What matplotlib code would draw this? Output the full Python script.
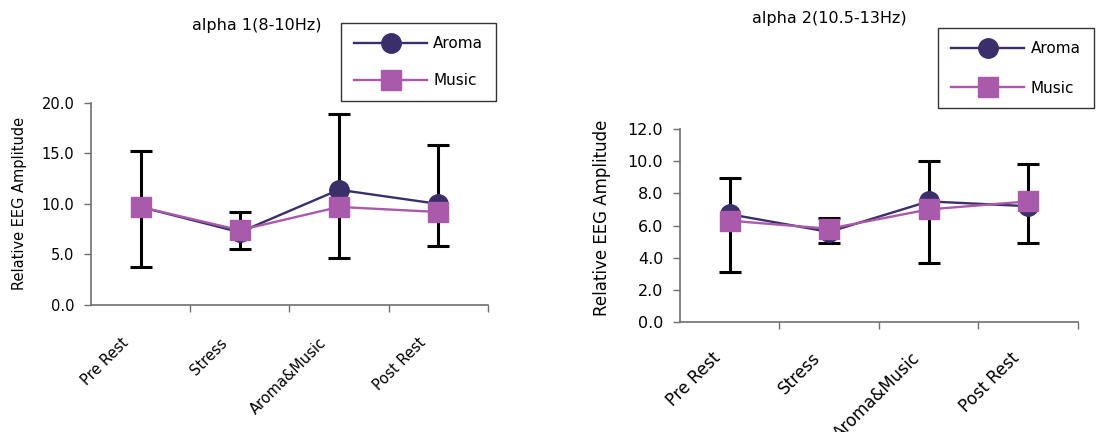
import matplotlib
matplotlib.use('Agg')
import matplotlib.pyplot as plt
import matplotlib.transforms as mtrans
import numpy as np

plt.rcParams['font.family'] = ['DejaVu Sans']

categories = ['Pre Rest', 'Stress', 'Aroma&Music', 'Post Rest']

# alpha 1 (8-10Hz)
aroma1 = [9.7, 7.2, 11.4, 10.0]
music1 = [9.7, 7.4, 9.7, 9.2]
err1_hi = [15.2, 9.2, 18.9, 15.8]
err1_lo = [3.8, 5.5, 4.6, 5.8]

# alpha 2 (10.5-13Hz)
aroma2 = [6.7, 5.6, 7.5, 7.2]
music2 = [6.3, 5.8, 7.0, 7.5]
err2_hi = [8.95, 6.45, 10.0, 9.85]
err2_lo = [3.1, 4.9, 3.65, 4.9]

c_aroma = '#3a2e6b'
c_music = '#aa5aaa'
c_axis = '#707070'

fig = plt.figure(figsize=(10.96, 4.32), dpi=100)


def panel(rect, title, aroma, music, hi, lo, ymax, ystep, fs_tick, fs_xlab, fs_ylab, fs_title,
          lab_off, leg_xy, leg_ls, title_xy, ylab_xy):
    ax = fig.add_axes(rect)
    x = np.arange(len(categories))
    a = np.array(aroma)
    yerr = [a - np.array(lo), np.array(hi) - a]
    ax.errorbar(x, a, yerr=yerr, fmt='none', ecolor='black', elinewidth=2.2,
                capsize=8, capthick=2.2, zorder=1)
    ax.plot(x, aroma, color=c_aroma, lw=1.7, marker='o', ms=14, label='Aroma', zorder=2)
    ax.plot(x, music, color=c_music, lw=1.7, marker='s', ms=14, label='Music', zorder=3)
    ax.set_xlim(-0.5, 3.5)
    ax.set_ylim(0, ymax)
    yt = np.arange(0, ymax + 0.01, ystep)
    ax.set_yticks(yt)
    ax.set_yticklabels(['%.1f' % v for v in yt], fontsize=fs_tick)
    ax.set_xticks([0.5, 1.5, 2.5, 3.5])
    ax.set_xticklabels([])
    ax.tick_params(axis='both', which='major', length=5, width=1, color=c_axis)
    ax.tick_params(axis='y', pad=7)
    # rotated category labels, right end placed just under each category
    off = mtrans.ScaledTranslation(lab_off[0] / 100, -lab_off[1] / 100, fig.dpi_scale_trans)
    for xi, lab in zip(x, categories):
        ax.text(xi, 0, lab, transform=ax.get_xaxis_transform() + off, rotation=45,
                rotation_mode='anchor', ha='right', va='top', fontsize=fs_xlab)
    for s in ['top', 'right']:
        ax.spines[s].set_visible(False)
    for s in ['left', 'bottom']:
        ax.spines[s].set_color(c_axis)
        ax.spines[s].set_linewidth(1.2)
    fig.text(ylab_xy[0], ylab_xy[1], 'Relative EEG Amplitude', rotation=90,
             ha='center', va='center', fontsize=fs_ylab)
    fig.text(title_xy[0], title_xy[1], title, ha='center', va='center', fontsize=fs_title)
    leg = ax.legend(loc='upper left', bbox_to_anchor=leg_xy, bbox_transform=fig.transFigure,
                    fontsize=11, frameon=True, fancybox=False, edgecolor='black',
                    handlelength=4.8, handletextpad=0.4, labelspacing=leg_ls,
                    borderpad=0.85, borderaxespad=0)
    leg.get_frame().set_linewidth(1.0)
    return ax


panel([0.083, 0.294, 0.362, 0.468], 'alpha 1(8-10Hz)', aroma1, music1, err1_hi, err1_lo,
      20, 5, 10.5, 10.5, 10.5, 11.5, (-20, 30), (0.311, 0.947), 1.45,
      (0.234, 0.942), (0.018, 1 - 203 / 432))
panel([0.6204, 0.2546, 0.363, 0.4468], 'alpha 2(10.5-13Hz)', aroma2, music2, err2_hi, err2_lo,
      12, 2, 11.5, 12, 12, 11.5, (-18, 27), (0.856, 0.935), 1.6,
      (0.757, 0.958), (0.549, 1 - 218 / 432))

fig.savefig('out.png', dpi=100)
